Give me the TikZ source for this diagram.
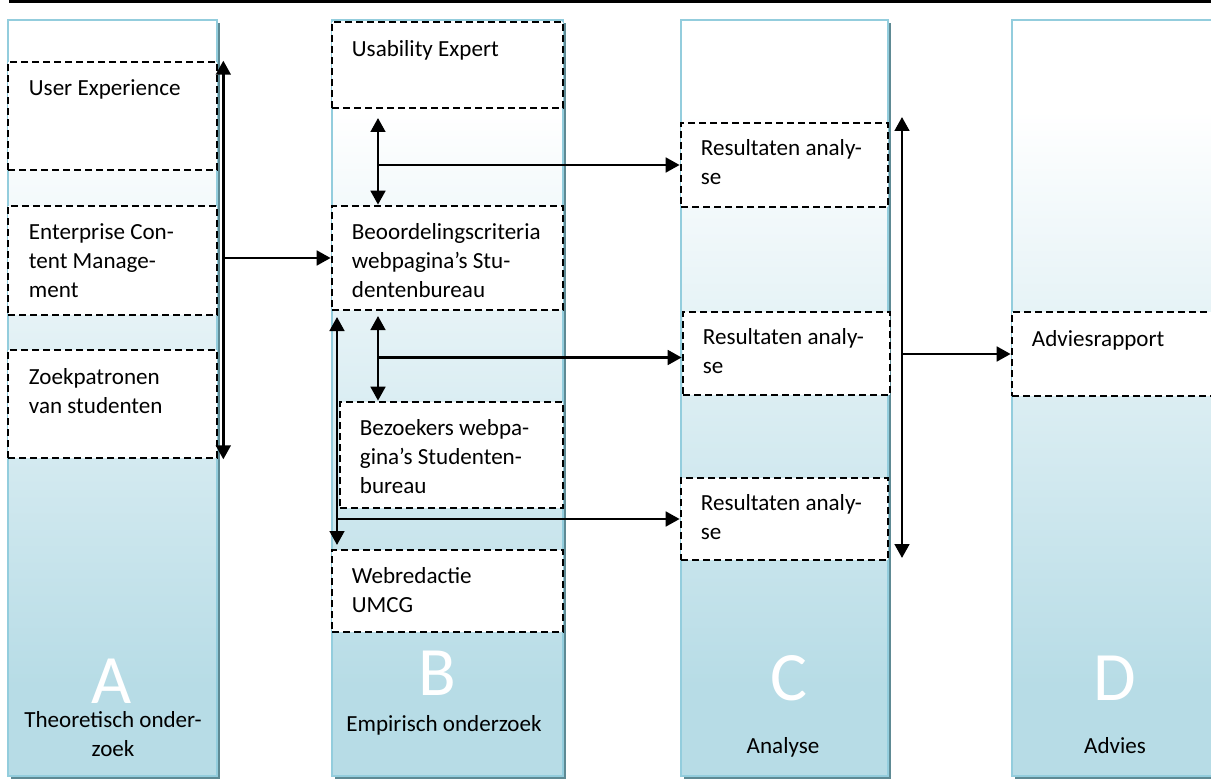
\documentclass[tikz,border=0pt]{standalone}
\usepackage{fontspec}
\setmainfont{Carlito}
\usetikzlibrary{arrows.meta,fit}

\definecolor{colBlue}{HTML}{B7DCE6}
\definecolor{colLine}{HTML}{93CDDD}
\definecolor{colShadow}{HTML}{5E8A94}
\pgfdeclareverticalshading{colshade}{100bp}{color(0bp)=(colBlue); color(31bp)=(colBlue); color(69bp)=(white); color(100bp)=(white)}

\tikzset{
  column/.style={draw=colLine, line width=1.2pt, shading=colshade},
  dbox/.style={draw, fill=white, line width=2pt, dash pattern=on 5.25pt off 3pt, inner sep=0pt},
  txt/.style={anchor=north west, inner sep=0pt, align=left, font=\fontsize{17.3}{21.75}\selectfont, execute at begin node=\strut},
  ttl/.style={anchor=base, inner sep=0pt, align=center, font=\fontsize{17.3}{21.75}\selectfont},
  letter/.style={anchor=base, text=white, inner sep=0pt, font=\fontsize{52}{60}\selectfont},
  tip/.tip={Triangle[length=10.5pt,width=11pt]},
  arr/.style={line width=2pt, -tip},
  darr/.style={line width=2pt, tip-tip},
}

\begin{document}
\begin{tikzpicture}[x=0.75pt,y=0.75pt,yscale=-1,xscale=1]
\useasboundingbox (0,0) rectangle (1211,781);

%Top rule
\draw[line width=2.25pt] (9,1.5) -- (1211,1.5);

%Columns with shadow
\foreach \xa/\xb in {8/217, 332/563, 681/888, 1012/1216}{
  \fill[colShadow] (\xa+3,23) rectangle (\xb+3,779);
  \path[column] (\xa,20) rectangle (\xb,776);
}

%Column A
\node[dbox, fit={(8,62) (217,170)}] (uxBox) {};
\node[txt] (uxTxt) at ([shift={(22,14)}]uxBox.north west) {User Experience};
\node[dbox, fit={(8,206) (217,315)}] (ecmBox) {};
\node[txt] (ecmTxt) at ([shift={(22,19)}]ecmBox.north west) {Enterprise Con-\\tent Manage-\\ment};
\node[dbox, fit={(8,350) (217,458)}] (zpBox) {};
\node[txt] (zpTxt) at ([shift={(22,20)}]zpBox.north west) {Zoekpatronen\\van studenten};

%Column B
\node[dbox, fit={(332,22) (563,108)}] (ueBox) {};
\node[txt] (ueTxt) at ([shift={(21,15)}]ueBox.north west) {Usability Expert};
\node[dbox, fit={(332,206) (563,310)}] (bcBox) {};
\node[txt] (bcTxt) at ([shift={(21,19)}]bcBox.north west) {Beoordelingscriteria\\webpagina’s Stu-\\dentenbureau};
\node[dbox, fit={(340,402) (563,508)}] (bzBox) {};
\node[txt] (bzTxt) at ([shift={(21,19)}]bzBox.north west) {Bezoekers webpa-\\gina’s Studenten-\\bureau};
\node[dbox, fit={(332,550) (563,632)}] (wrBox) {};
\node[txt] (wrTxt) at ([shift={(21,19)}]wrBox.north west) {Webredactie\\UMCG};

%Column C
\node[dbox, fit={(681,123) (888,207)}] (ra1Box) {};
\node[txt] (ra1Txt) at ([shift={(21,18)}]ra1Box.north west) {Resultaten analy-\\se};
\node[dbox, fit={(683,312) (890,395)}] (ra2Box) {};
\node[txt] (ra2Txt) at ([shift={(21,18)}]ra2Box.north west) {Resultaten analy-\\se};
\node[dbox, fit={(681,478) (888,560)}] (ra3Box) {};
\node[txt] (ra3Txt) at ([shift={(21,18)}]ra3Box.north west) {Resultaten analy-\\se};

%Column D
\node[dbox, fit={(1012,312) (1216,396)}] (arBox) {};
\node[txt] (arTxt) at ([shift={(21,15)}]arBox.north west) {Adviesrapport};

%Column letters and titles
\node[letter] (letA) at (112,703) {A};
\node[ttl, anchor=north] (ttlA) at (113,711) {Theoretisch onder-\\zoek};
\node[letter] (letB) at (437,695) {B};
\node[ttl] (ttlB) at (444,731) {Empirisch onderzoek};
\node[letter] (letC) at (789,700) {C};
\node[ttl] (ttlC) at (783,753) {Analyse};
\node[letter] (letD) at (1115,700) {D};
\node[ttl] (ttlD) at (1115,753) {Advies};

%Arrows A -> B
\coordinate (aTop) at ([shift={(5,0)}]uxBox.north east);
\coordinate (aBot) at ([shift={(5,0)}]zpBox.south east);
\draw[darr] (aTop) -- (aBot);
\draw[arr] (aTop |- bcBox.west) -- (bcBox.west);

%Arrows B -> C
\coordinate (b1Top) at (378,118);
\draw[darr] (b1Top) -- (b1Top |- bcBox.north);
\draw[arr] (b1Top |- ra1Box.west) -- (ra1Box.west);
\coordinate (b2Top) at (378,316);
\coordinate (ra2Pt) at ([shift={(0,4)}]ra2Box.west);
\draw[darr] (b2Top) -- (b2Top |- bzBox.north);
\draw[arr] (b2Top |- ra2Pt) -- (ra2Pt);
\coordinate (b3Top) at (337,317);
\coordinate (b3Bot) at (337,545);
\draw[darr] (b3Top) -- (b3Bot);
\draw[arr] (b3Top |- ra3Box.west) -- (ra3Box.west);

%Arrows C -> D
\coordinate (cTop) at (902,117);
\coordinate (cBot) at (902,558);
\draw[darr] (cTop) -- (cBot);
\draw[arr] (cTop |- arBox.west) -- (arBox.west);

\end{tikzpicture}
\end{document}
